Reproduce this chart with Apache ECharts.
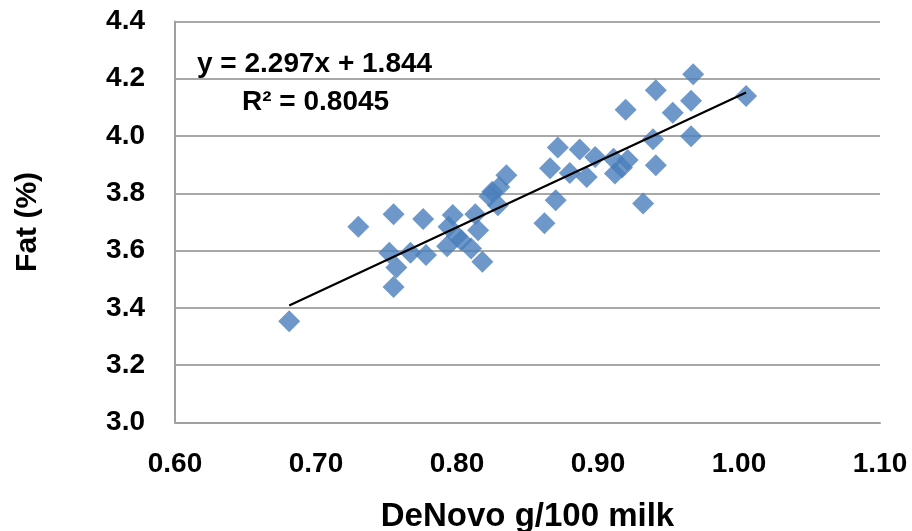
<!DOCTYPE html>
<html>
<head>
<meta charset="utf-8">
<script src="https://cdn.jsdelivr.net/npm/echarts@6/dist/echarts.min.js"></script>
<style>html,body{margin:0;padding:0;background:#fff}#c{width:912px;height:531px}</style>
</head>
<body>
<div id="c"></div>
<script>
// DeNovo g/100 milk (x)
const deNovo = [0.681,0.730,0.755,0.752,0.757,0.755,0.767,0.776,0.778,0.797,
  0.794,0.813,0.815,0.793,0.803,0.810,0.818,0.825,0.835,0.830,
  0.829,0.862,0.870,0.866,0.8715,0.880,0.887,0.898,0.892,0.911,
  0.921,0.912,0.917,0.941,0.932,0.939,0.966,0.9196,0.953,0.941,
  0.9675,0.966,1.005,0.800,0.823];
// Fat (%) (y)
const fat = [3.353,3.683,3.727,3.592,3.541,3.473,3.592,3.710,3.584,3.724,
  3.683,3.727,3.671,3.615,3.636,3.607,3.561,3.805,3.863,3.822,
  3.758,3.695,3.776,3.887,3.960,3.871,3.953,3.927,3.857,3.921,
  3.916,3.869,3.890,3.898,3.764,3.989,3.999,4.092,4.081,4.160,
  4.216,4.123,4.140,3.650,3.790];
// Linear trendline endpoints
const trendX = [0.681, 1.005];
const trendY = [3.408, 4.152];
const xTicks = ['0.60','0.70','0.80','0.90','1.00','1.10'];
const yTicks = ['3.0','3.2','3.4','3.6','3.8','4.0','4.2','4.4'];
const eqText = 'y = 2.297x + 1.844';
const r2Text = 'R\u00B2 = 0.8045';

const FONT = '"Liberation Sans", Arial, sans-serif';
const chart = echarts.init(document.getElementById('c'));
chart.setOption({
  animation: false,
  backgroundColor: '#ffffff',
  grid: {left: 175, right: 32, top: 21.5, bottom: 108.7, containLabel: false, outerBoundsMode: 'none'},
  xAxis: {
    type: 'value', min: 0.6, max: 1.1, interval: 0.1,
    name: 'DeNovo g/100 milk', nameLocation: 'middle', nameGap: 78,
    nameTextStyle: {fontFamily: FONT, fontWeight: 'bold', fontSize: 33, color: '#000'},
    axisLine: {show: true, lineStyle: {color: '#a0a0a0', width: 2}},
    axisTick: {show: false},
    splitLine: {show: false},
    axisLabel: {margin: 28, fontFamily: FONT, fontWeight: 'bold', fontSize: 28, color: '#000',
      formatter: (v) => xTicks[Math.round((v - 0.6) / 0.1)] }
  },
  yAxis: {
    type: 'value', min: 3.0, max: 4.4, interval: 0.2,
    name: 'Fat (%)', nameLocation: 'middle', nameGap: 132,
    nameTextStyle: {fontFamily: FONT, fontWeight: 'bold', fontSize: 30, color: '#000'},
    axisLine: {show: true, lineStyle: {color: '#a0a0a0', width: 2}},
    axisTick: {show: false},
    splitLine: {show: true, lineStyle: {color: '#a8a8a8', width: 2}},
    axisLabel: {margin: 30, fontFamily: FONT, fontWeight: 'bold', fontSize: 28, color: '#000',
      formatter: (v) => yTicks[Math.round((v - 3.0) / 0.2)] }
  },
  series: [
    {
      type: 'scatter', symbol: 'diamond', symbolSize: 22,
      itemStyle: {color: '#4A7EBB'},
      data: deNovo.map((x, i) => [x, fat[i]]), z: 2
    },
    {
      type: 'line', symbol: 'none', silent: true,
      lineStyle: {color: '#000', width: 2.2},
      data: trendX.map((x, i) => [x, trendY[i]]), z: 3
    }
  ],
  graphic: [
    {type: 'text', left: 197, top: 50, z: 10,
      style: {text: eqText, fontFamily: FONT, fontWeight: 'bold', fontSize: 28, fill: '#000'}},
    {type: 'text', left: 242, top: 88, z: 10,
      style: {text: r2Text, fontFamily: FONT, fontWeight: 'bold', fontSize: 28, fill: '#000'}}
  ]
});
</script>
</body>
</html>
